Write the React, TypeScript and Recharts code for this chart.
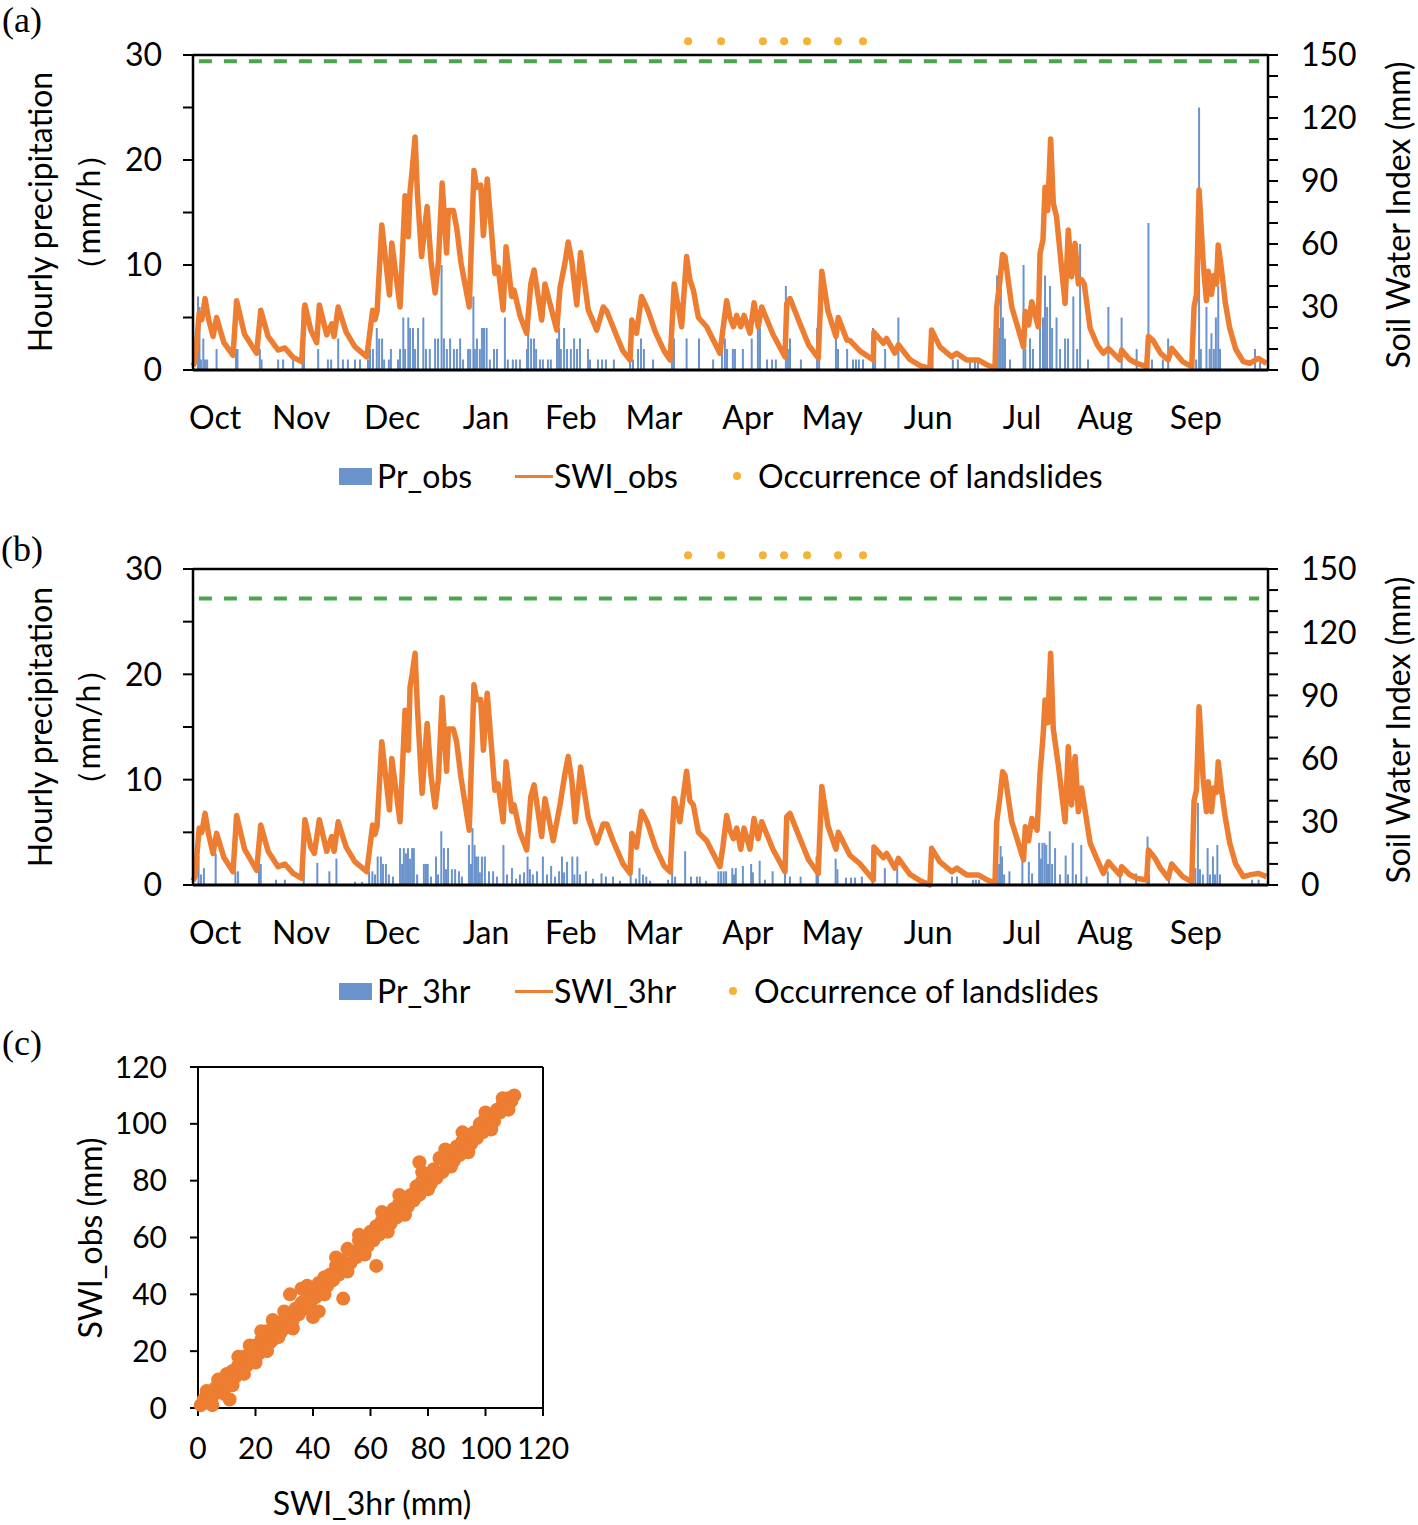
import React from 'react';
import {
  ComposedChart, ScatterChart, Scatter, Bar, Line, XAxis, YAxis,
  ReferenceLine, ReferenceDot,
} from 'recharts';

const BLUE = '#6b93cc';
const ORANGE = '#ed7d31';
const GOLD = '#f5b335';
const GREEN = '#4aa64c';
const FONT = 'Lato, "Open Sans", sans-serif';

// month labels on the time axis (day index from 1 Oct)
const monthNames = ['Oct', 'Nov', 'Dec', 'Jan', 'Feb', 'Mar', 'Apr', 'May', 'Jun', 'Jul', 'Aug', 'Sep'];
const monthDays = [7.5, 36.7, 67.6, 99.5, 128.3, 156.5, 188.4, 217, 249.6, 281.5, 309.7, 340.5];

const prTicks = [0, 5, 10, 15, 20, 25, 30];
const swiTicks = [0, 10, 20, 30, 40, 50, 60, 70, 80, 90, 100, 110, 120, 130, 140, 150];
const scatterTicks = [0, 20, 40, 60, 80, 100, 120];

// landslide dates (day index)
const landslideDays = [168.1, 179.3, 193.5, 200.7, 208.5, 219, 227.5];

// SWI threshold lines
const thresholdObs = 147;
const threshold3hr = 136;

// [day, SWI mm]
const swiObs: [number, number][] = [
  [0, 2], [0.7, 4], [2.1, 27], [3, 24], [4.1, 34], [5.3, 24], [6.8, 16], [8, 25], [10.5, 13], [13.6, 7],
  [14.8, 33], [17.5, 17], [21.6, 8], [23, 28.5], [25.5, 16], [28.9, 9.5], [31.2, 10.5], [34, 6], [36.9, 4], [38, 31],
  [40, 19], [42, 13], [42.9, 31], [45.4, 16.7], [47.1, 22], [47.9, 16], [49.3, 30], [52, 18], [55, 11], [59, 6.3],
  [61, 28.5], [61.8, 24], [62.5, 28], [64.1, 69], [66.7, 35.7], [67.5, 60.5], [70.3, 30], [72, 83], [73.1, 63.5], [73.7, 85],
  [74.4, 95], [75.4, 111], [76.2, 84], [77.6, 54], [79.5, 77.8], [80.8, 52], [82.2, 36.7], [83.3, 51], [84.6, 89], [86.1, 55.7],
  [86.7, 76], [88.4, 76], [89.5, 68], [91, 51], [93.8, 30], [95.4, 95], [96.3, 87], [97.7, 88], [98.6, 64], [99.9, 91],
  [102.5, 46], [103.6, 49], [105.3, 28.6], [106.3, 58.7], [108.2, 35], [109, 38], [111, 26], [113.3, 17.5], [114.7, 41], [115.8, 47.6],
  [118.4, 23.8], [119.5, 41], [123.5, 19], [124.6, 39], [126.3, 51], [127.4, 61], [128.6, 52], [130.3, 31], [131.6, 56], [134.2, 28.6],
  [137.1, 19], [139.3, 30], [140.5, 28], [143.9, 16], [146, 9], [148.4, 4.8], [149, 23.8], [150.6, 17.5], [152.3, 35], [154.3, 29],
  [157, 18], [160, 9], [162, 4.8], [163.4, 41], [165.9, 20.6], [167.6, 54], [168.7, 43], [169.9, 38], [171.6, 25], [174.4, 20.6],
  [178.9, 8], [179.9, 19], [181.2, 33], [182.3, 25], [183.5, 20.6], [184.6, 26], [186, 20.6], [187.1, 26], [189.1, 17.5], [190.5, 32],
  [191.9, 20.6], [193.1, 30], [196.9, 17], [201, 6.3], [201.6, 31.7], [202.7, 34], [206.1, 22], [209, 12], [212.3, 5.7], [213.5, 47],
  [215.6, 28], [218.3, 16], [219.1, 25], [222, 14.3], [223.1, 14], [226.5, 9], [231, 4.8], [231.2, 18], [234.4, 12.7], [235.5, 15],
  [238.3, 8], [239.5, 12], [243.4, 5], [247, 2], [250.2, 0.8], [250.8, 19], [253.6, 11], [257.6, 6.3], [259.3, 8], [262.7, 4.8],
  [266.6, 4.8], [269.5, 2.5], [272.3, 0.8], [272.9, 30], [274, 43], [274.9, 55], [275.7, 54], [278, 30], [282, 11], [282.6, 27.8],
  [283.7, 21.4], [284.8, 32.5], [287, 20.6], [287.6, 55.5], [288.6, 62], [289.3, 87], [290.2, 76], [291.2, 110], [292.1, 79.4], [293.2, 73],
  [296.1, 31.7], [297.2, 66.7], [298.3, 44.4], [299.5, 60.3], [300.6, 41], [301.7, 43], [302.6, 41], [304.6, 20], [307, 12], [309.1, 8],
  [310.8, 10.3], [314.7, 4.8], [315.3, 9.5], [318, 5], [320.4, 3.2], [323.8, 1.6], [324.4, 16], [326, 14], [328.5, 8], [331.1, 4.8],
  [332.3, 10.3], [336, 4], [339.1, 1.6], [339.9, 30], [340.7, 36], [341.6, 85.7], [343, 50.8], [344.1, 33], [344.7, 47], [345.8, 36],
  [346.6, 45], [347.5, 41], [348.1, 59.5], [349.2, 48], [350.5, 32], [352, 20], [354, 10], [356.6, 4], [358.8, 3.2], [361.7, 5.5], [364.5, 3.2],
];

const swi3hr: [number, number][] = [
  [0, 2], [0.7, 4], [2.1, 27], [3, 25], [4.1, 34], [5.3, 24], [6.8, 15], [8, 24.5], [10.5, 13], [13.6, 6.3],
  [14.8, 33], [17.5, 17], [21.6, 7], [23, 28.5], [25.5, 16], [28.9, 8.7], [31.2, 10], [34, 5.5], [36.9, 3.2], [38, 31],
  [40, 18], [41.2, 15], [42.9, 31], [45.4, 16], [47.1, 23], [47.9, 16], [49.3, 30], [52, 18], [55, 11], [59, 6.3],
  [61, 28.5], [61.8, 24], [62.5, 28], [64.1, 68], [66.7, 35.6], [67.5, 60], [70.3, 30], [72, 83], [73.1, 64], [73.7, 94],
  [74.4, 100], [75.4, 110], [76.2, 84], [77.8, 43.5], [79.5, 76.7], [80.8, 52], [82.2, 37], [83.3, 50], [84.6, 89], [86.1, 54],
  [86.7, 74], [88.4, 74], [89.5, 68], [91, 51], [93.8, 26], [95.4, 95], [96.3, 88], [97.7, 88], [98.6, 64], [99.9, 91],
  [102.5, 45], [103.6, 48], [105.3, 30], [106.3, 58.5], [108.2, 35], [109, 38], [111, 25], [113.3, 16.6], [114.7, 42], [115.8, 47.5],
  [118.4, 23], [119.5, 41], [122.3, 21], [124.6, 38], [126.3, 53], [127.4, 61], [128.6, 50], [129.8, 30], [131.6, 56], [134.2, 32],
  [137.1, 20], [139.3, 29], [140.5, 29], [142.6, 21], [146, 10], [148.4, 5.5], [149, 24.5], [150.6, 18], [152.3, 35], [154.3, 29.5],
  [157, 18], [160, 9], [162, 6.3], [163.4, 41], [165.3, 30], [167.6, 54], [168.7, 40], [169.9, 38], [171.6, 25], [174.4, 21],
  [178.9, 8.7], [179.9, 18], [181.2, 33], [182.3, 26], [183.5, 22], [184.6, 27], [186, 17], [187.1, 27], [189.1, 17], [190.5, 31.6],
  [191.9, 22], [193.1, 30], [196.9, 17], [201, 6.3], [201.6, 32.4], [202.7, 34], [206.1, 22], [209, 12], [212.3, 5.5], [213.5, 46.7],
  [215.6, 28], [218.3, 17], [219.1, 25], [222, 17], [223.1, 14], [226.5, 10], [231, 2.4], [231.2, 18], [234.4, 13], [235.5, 15],
  [238.3, 8], [239.5, 12.6], [243.4, 5], [247, 2], [250.2, 0], [250.8, 17.4], [253.6, 11], [257.6, 6.3], [259.3, 8], [262.7, 4.8],
  [266.6, 4.8], [269.5, 2.5], [272.3, 0.8], [272.9, 30], [274, 42], [274.9, 53.8], [275.7, 52], [278, 30], [282, 11.9], [282.6, 27.7],
  [283.7, 21], [284.8, 31.6], [286.6, 26], [287.6, 53], [288.6, 70], [289.3, 87.8], [290.2, 77], [291.2, 110], [292.1, 74], [293.9, 56],
  [296.1, 30], [297.2, 65.6], [298.3, 38], [299.5, 61], [300.6, 34.8], [301.7, 46], [302.6, 38], [304.6, 20], [307, 12], [309.1, 5.5],
  [310.8, 11], [314.7, 4.8], [315.3, 8.7], [318, 5], [320.4, 3.2], [323.8, 2.4], [324.4, 16.6], [326.5, 13], [328.5, 8], [331.1, 3.2],
  [332.3, 10], [336, 4], [339.1, 1.6], [339.9, 40], [340.7, 45], [341.6, 84.6], [343, 50], [344.1, 34.8], [344.7, 49], [345.8, 34.8],
  [346.6, 46], [347.5, 44], [348.1, 58.5], [349.2, 45], [350.5, 32], [352, 20], [354, 10], [356.6, 4], [358.8, 4.8], [361.7, 5.5], [364.5, 4],
];

// [day, mm/h]
const prObs: [number, number][] = [
  [1.7, 7], [2.2, 6], [2.7, 1], [3.5, 3], [4.1, 1], [4.8, 1], [8, 2], [14.6, 2], [15.1, 2], [22.7, 2],
  [23.3, 1], [28.9, 1], [30.6, 1], [34, 1], [37.2, 6], [37.7, 3], [42.5, 2], [45.8, 1], [46.9, 1], [49.3, 3],
  [50.9, 1], [52.6, 1], [55, 1], [56.7, 1], [59.4, 1], [60.1, 2], [61.1, 2], [62.4, 4], [63.2, 3], [64.2, 3],
  [64.9, 1], [66.5, 1], [67.2, 2], [69.6, 1], [70.3, 2], [71.4, 5], [72, 2], [73.1, 5], [73.7, 4], [74.7, 4],
  [75.4, 2], [76.4, 4], [78.2, 5], [79.1, 2], [80.4, 2], [82.2, 3], [83.2, 3], [84.4, 10], [85.2, 3], [86.2, 2],
  [87.3, 3], [88.6, 2], [89.6, 2], [90.7, 3], [91.7, 1], [93.4, 2], [94.1, 2], [95.2, 7], [95.7, 2], [96.4, 3],
  [97.4, 2], [98.1, 4], [98.8, 4], [99.7, 4], [100.8, 1], [102.2, 2], [103.2, 2], [105.9, 5], [106.9, 1], [108.6, 1],
  [109.7, 1], [111, 1], [113.4, 2], [113.8, 4], [114.8, 3], [115.8, 3], [116.5, 2], [117.8, 1], [118.8, 1], [120.5, 1],
  [121.5, 1], [123.6, 3], [124.3, 4], [124.9, 2], [126, 4], [127, 2], [128.3, 2], [129.4, 3], [130.4, 2], [131.4, 3],
  [134.1, 2], [134.8, 1], [137.5, 1], [138.9, 1], [140.2, 1], [142.9, 1], [148.4, 1], [149.4, 1], [151.1, 2], [152.1, 3],
  [153.1, 2], [156.2, 1], [162.6, 2], [163.3, 3], [167.6, 3], [171.8, 3], [176.6, 1], [179.6, 2], [180.6, 3], [181.3, 2],
  [183.3, 2], [184, 2], [186.7, 2], [189.7, 3], [191.8, 4], [192.5, 4], [194.9, 1], [196.6, 1], [197.9, 1], [201.3, 8],
  [202, 2], [202.7, 3], [206.4, 1], [211.9, 4], [212.6, 3], [218.3, 3], [219, 2], [222.1, 2], [224.1, 1], [225.1, 1],
  [226.1, 1], [227.5, 1], [230.9, 4], [231.6, 1], [235, 2], [239.5, 5], [251.1, 4], [258, 1], [259.7, 1], [263.8, 1],
  [265.5, 1], [266.5, 1], [273, 9], [273.7, 4], [274.3, 11], [275, 5], [275.7, 3], [277.4, 1], [282, 10], [282.6, 2],
  [284.2, 3], [285.2, 2], [287.6, 12], [288.6, 5], [289.3, 9], [290, 6], [291, 8], [291.7, 4], [293.2, 5], [294.4, 2],
  [296.1, 3], [297.1, 3], [298.9, 7], [300.2, 2], [301.2, 12], [303.9, 1], [310.8, 6], [315.3, 5], [320.4, 2], [324.4, 14],
  [325.6, 1], [329.3, 1], [331.1, 3], [339.6, 2], [340.6, 1], [341.6, 25], [342.2, 2], [344.1, 6], [345.2, 2], [345.8, 3.5],
  [346.6, 2], [347.3, 5], [348.1, 8], [348.7, 2], [360.6, 2], [362.3, 1],
];

const pr3hr: [number, number][] = [
  [1.9, 2.7], [2.7, 1], [3.7, 1.6], [7.7, 3], [14.4, 1.3], [15.3, 1.3], [22.4, 2], [23, 2], [28.2, 0.5], [31.2, 0.5],
  [37.6, 1.8], [42.2, 2.1], [46.3, 1.3], [48.7, 2.5], [55, 0.3], [57.4, 0.3], [59.8, 1.3], [60.9, 1.3], [61.8, 1], [62.7, 2.7],
  [63.8, 2.7], [64.5, 2], [65.5, 2], [66.5, 1], [67.9, 0.8], [70.3, 3.5], [71, 2], [71.6, 3.5], [72.3, 3], [73, 3.5],
  [73.7, 2.5], [74.4, 3.5], [75, 3.5], [76.1, 1], [78.4, 2], [79.1, 2], [79.7, 2], [80.8, 0.8], [82.5, 2.7], [83.2, 1],
  [84.3, 5.1], [85.2, 3.5], [85.9, 1.5], [86.6, 3.5], [87.9, 1.5], [89, 1.5], [90.3, 1.3], [91.3, 0.8], [93.7, 3.8], [94.4, 2],
  [94.9, 5.4], [95.6, 3.8], [96.1, 2.7], [96.8, 2.7], [97.4, 1.2], [98.1, 2.7], [99.1, 2.7], [100.5, 1.3], [101.9, 1.3], [103.2, 0.8],
  [105.4, 3.8], [106.6, 1], [108.3, 1.6], [109.7, 0.6], [111, 1], [112.4, 1.2], [113.6, 2.7], [114.4, 1.5], [115.4, 1], [116.8, 1.3],
  [118.8, 2.7], [120.2, 1], [121.6, 1.8], [122.9, 0.8], [124.3, 1.3], [125.3, 2.7], [126, 1.2], [127, 2.2], [128.8, 2.7], [129.5, 1],
  [130.5, 2.7], [131.4, 1], [133.4, 1.3], [135.8, 0.6], [138.7, 1.1], [140.2, 0.8], [142.6, 0.8], [145, 0.4], [148.6, 1.3], [150.4, 0.6],
  [151.6, 1.6], [152.8, 1], [153.9, 0.8], [155.2, 0.4], [161.3, 0.5], [162.7, 1.6], [163.7, 0.8], [167.1, 3.2], [169.1, 0.8], [171.1, 0.8],
  [172.1, 0.8], [174.2, 0.4], [178.4, 1.3], [179.3, 1.3], [180.2, 1.3], [181, 1.3], [183.1, 1.6], [183.7, 1], [184.3, 1.6], [186.7, 1.8],
  [189.5, 2], [190.1, 1.2], [192.4, 2.3], [194.2, 0.5], [196.8, 1.3], [201, 1.4], [202.7, 0.8], [206.3, 0.8], [211.7, 2.7], [212.2, 1.5],
  [218.2, 2.5], [218.8, 1.5], [221.7, 0.7], [223.4, 0.7], [224.8, 0.7], [227.1, 0.8], [230.7, 1.3], [234.9, 1.6], [239.1, 1.6], [250.9, 1.1],
  [257.7, 0.8], [259.4, 0.8], [264.8, 0.5], [265.8, 0.5], [266.9, 0.5], [273, 3.7], [273.7, 2], [274.2, 3.7], [274.7, 2.7], [275.4, 1],
  [277.2, 1.3], [281.6, 2.2], [283.8, 2.2], [284.9, 1.1], [287.3, 4], [287.9, 2.5], [288.4, 4], [289.1, 4], [289.7, 3.8], [290.3, 2],
  [290.9, 5.1], [291.7, 2], [292.7, 3.5], [294.4, 1], [296.3, 2.8], [297.1, 1], [298.7, 4], [299.8, 1], [301.6, 3.8], [303.4, 0.8],
  [310.6, 1.3], [314.8, 1.1], [320.2, 1.1], [324.1, 4.6], [324.6, 1], [331.4, 1.3], [340.3, 1.6], [341.2, 7.8], [341.9, 1.5], [342.9, 1],
  [344.5, 3.5], [345.3, 1], [346.3, 2.7], [347, 1], [347.8, 3.8], [348.7, 1], [359.6, 0.5], [361.8, 0.5],
];

// panel (c): [SWI_3hr, SWI_obs]
const swiPairs: [number, number][] = [
  [1, 1], [2, 3], [3, 2], [4, 5], [5, 4], [6, 7], [7, 6], [8, 10], [8, 7], [9, 9],
  [10, 12], [11, 9], [11, 3], [12, 13], [13, 11], [14, 15], [15, 14], [16, 18], [17, 15], [18, 19],
  [19, 17], [20, 22], [21, 19], [22, 24], [23, 21], [24, 27], [25, 23], [26, 28], [26, 24], [27, 26],
  [28, 30], [29, 27], [30, 31], [31, 29], [32, 40], [32, 33], [33, 31], [34, 35], [35, 33], [36, 42],
  [36, 37], [37, 35], [38, 39], [39, 36], [40, 32], [40, 41], [41, 39], [42, 34], [42, 44], [43, 41],
  [44, 46], [45, 43], [46, 47], [47, 45], [48, 50], [49, 47], [50, 52], [50.5, 38.5], [51, 49], [52, 56],
  [53, 51], [54, 55], [55, 53], [56, 59], [57, 55], [58, 60], [59, 57], [60, 62], [61, 59], [62, 50],
  [62, 64], [63, 61], [64, 66], [65, 63], [66, 67], [67, 65], [68, 70], [69, 67], [70, 72], [71, 69],
  [72, 74], [73, 71], [74, 75], [75, 73], [76, 78], [77, 86.5], [77, 75], [78, 80], [79, 77], [80, 82],
  [81, 79], [82, 84], [83, 81], [84, 88], [85, 83], [86, 87], [87, 85], [88, 90], [89, 87], [90, 92],
  [91, 89], [92, 94], [93, 91], [94, 96], [95, 93], [96, 97], [97, 95], [98, 100], [99, 97], [100, 102],
  [101, 99], [102, 103], [103, 101], [104, 105], [105, 104], [106, 107], [107, 106], [108, 109], [109, 108], [110, 110],
  [3, 6], [5, 1], [7, 10], [9, 5], [12, 8], [14, 18], [16, 12], [18, 22], [20, 16], [22, 27],
  [24, 20], [26, 31], [28, 25], [30, 34], [33, 28], [38, 43], [44, 40], [48, 53], [52, 48], [56, 61],
  [58, 54], [64, 69], [66, 62], [70, 75], [72, 68], [78, 83], [80, 77], [86, 91], [88, 85], [92, 97],
  [94, 90], [100, 104], [102, 98], [106, 109], [108, 105],
];

type Row = { day: number; swi?: number; pr?: number };

function buildRows(swi: [number, number][], pr: [number, number][]): Row[] {
  const m = new Map<number, Row>();
  swi.forEach(([d, v]) => m.set(d, { ...(m.get(d) || { day: d }), swi: v }));
  pr.forEach(([d, v]) => m.set(d, { ...(m.get(d) || { day: d }), pr: v }));
  return Array.from(m.values()).sort((a, b) => a.day - b.day);
}

const rowsObs = buildRows(swiObs, prObs);
const rows3hr = buildRows(swi3hr, pr3hr);
const scatterRows = swiPairs.map(([x, y]) => ({ x, y }));

const tickStyle = { fill: '#000', fontSize: 32, fontFamily: FONT };
const tickStyleC = { fill: '#000', fontSize: 30, fontFamily: FONT };

const PrBar = (props: any) => {
  const { x, y, width, height } = props;
  if (!(height > 0)) return <g />;
  return <rect x={x + width / 2 - 1} y={y} width={2} height={height} fill={BLUE} />;
};

const Dot = (props: any) => <circle cx={props.cx} cy={props.cy} r={7} fill={ORANGE} />;

const Txt = ({ x, y, children, size = 32, rotate = false, family = FONT }: any) => (
  <div
    style={{
      position: 'absolute', left: x, top: y, whiteSpace: 'nowrap', fontSize: size, fontFamily: family,
      lineHeight: 1, color: '#000',
      transform: rotate ? 'translate(-50%, -50%) rotate(-90deg)' : 'translate(-50%, -50%)',
    }}
  >
    {children}
  </div>
);

const LegendRow = ({ cy, prLabel, swiLabel, dotX }: any) => (
  <>
    <div style={{ position: 'absolute', left: 339, top: cy - 8, width: 33, height: 17, background: BLUE }} />
    <div style={{ position: 'absolute', left: 377, top: cy - 18, fontSize: 32, fontFamily: FONT, lineHeight: '36px' }}>{prLabel}</div>
    <div style={{ position: 'absolute', left: 515, top: cy - 1, width: 38, height: 3, background: ORANGE }} />
    <div style={{ position: 'absolute', left: 554, top: cy - 18, fontSize: 32, fontFamily: FONT, lineHeight: '36px' }}>{swiLabel}</div>
    <div style={{ position: 'absolute', left: dotX - 4, top: cy - 4, width: 8, height: 8, borderRadius: 4, background: GOLD }} />
    <div style={{ position: 'absolute', left: dotX + 21, top: cy - 18, fontSize: 32, fontFamily: FONT, lineHeight: '36px' }}>
      Occurrence of landslides
    </div>
  </>
);

const SeriesPanel = ({ rows, threshold, bottom }: { rows: Row[]; threshold: number; bottom: number }) => (
  <ComposedChart width={1418} height={450} data={rows} margin={{ top: 55, right: 70, bottom, left: 113 }}>
    <XAxis
      dataKey="day" type="number" domain={[0, 365]} ticks={monthDays} interval={0}
      tickFormatter={(_v: number, i: number) => monthNames[i]}
      axisLine={{ stroke: '#000', strokeWidth: 3 }} tickLine={false} tickSize={0} tickMargin={36}
      height={60} tick={tickStyle}
    />
    <YAxis
      yAxisId="pr" domain={[0, 30]} ticks={prTicks} interval={0} width={80}
      tickFormatter={(v: number) => (v % 10 === 0 ? String(v) : '')}
      axisLine={{ stroke: '#000', strokeWidth: 2.5 }} tickLine={{ stroke: '#000', strokeWidth: 2 }}
      tickSize={10} tickMargin={21} tick={tickStyle}
    />
    <YAxis
      yAxisId="swi" orientation="right" domain={[0, 150]} ticks={swiTicks} interval={0} width={80}
      tickFormatter={(v: number) => (v % 30 === 0 ? String(v) : '')}
      axisLine={{ stroke: '#000', strokeWidth: 2.5 }} tickLine={{ stroke: '#000', strokeWidth: 2 }}
      tickSize={10} tickMargin={23} tick={tickStyle}
    />
    <ReferenceLine yAxisId="pr" y={30} stroke="#000" strokeWidth={2.5} />
    <ReferenceLine
      yAxisId="swi"
      segment={[{ x: 2, y: threshold }, { x: 362, y: threshold }]}
      stroke={GREEN} strokeWidth={4} strokeDasharray="13 12"
    />
    <Bar yAxisId="pr" dataKey="pr" shape={PrBar} isAnimationActive={false} />
    <Line
      yAxisId="swi" dataKey="swi" type="linear" stroke={ORANGE} strokeWidth={5.5} dot={false}
      strokeLinejoin="round" connectNulls isAnimationActive={false}
    />
    {landslideDays.map((d) => (
      <ReferenceDot key={d} yAxisId="swi" x={d} y={156.5} r={4} fill={GOLD} stroke="none" ifOverflow="visible" />
    ))}
  </ComposedChart>
);

export default function App() {
  return (
    <div style={{ position: 'absolute', left: 0, top: 0, width: 1418, height: 1525, background: '#fff', fontFamily: FONT }}>
      <Txt x={22} y={20} size={36} family='"Liberation Serif", serif'>(a)</Txt>
      <Txt x={22} y={549} size={36} family='"Liberation Serif", serif'>(b)</Txt>
      <Txt x={22} y={1043} size={36} family='"Liberation Serif", serif'>(c)</Txt>

      <div style={{ position: 'absolute', left: 0, top: 0 }}>
        <SeriesPanel rows={rowsObs} threshold={thresholdObs} bottom={20} />
      </div>
      <Txt x={40} y={212} rotate>Hourly precipitation</Txt>
      <Txt x={88} y={212} rotate>（mm/h）</Txt>
      <Txt x={1398} y={215} rotate>Soil Water Index (mm)</Txt>
      <LegendRow cy={476} prLabel="Pr_obs" swiLabel="SWI_obs" dotX={737} />

      <div style={{ position: 'absolute', left: 0, top: 514 }}>
        <SeriesPanel rows={rows3hr} threshold={threshold3hr} bottom={19} />
      </div>
      <Txt x={40} y={727} rotate>Hourly precipitation</Txt>
      <Txt x={88} y={727} rotate>（mm/h）</Txt>
      <Txt x={1398} y={730} rotate>Soil Water Index (mm)</Txt>
      <LegendRow cy={991} prLabel="Pr_3hr" swiLabel="SWI_3hr" dotX={733} />

      <div style={{ position: 'absolute', left: 0, top: 1040 }}>
        <ScatterChart width={600} height={485} margin={{ top: 27, right: 57, bottom: 57, left: 128 }}>
          <XAxis
            type="number" dataKey="x" domain={[0, 120]} ticks={scatterTicks} interval={0} height={60}
            axisLine={{ stroke: '#000', strokeWidth: 2 }} tickLine={{ stroke: '#000', strokeWidth: 2 }}
            tickSize={8} tickMargin={22} tick={tickStyleC}
          />
          <YAxis
            type="number" dataKey="y" domain={[0, 120]} ticks={scatterTicks} interval={0} width={70}
            axisLine={{ stroke: '#000', strokeWidth: 2 }} tickLine={{ stroke: '#000', strokeWidth: 2 }}
            tickSize={8} tickMargin={23} tick={tickStyleC}
          />
          <ReferenceLine y={120} stroke="#000" strokeWidth={2} />
          <ReferenceLine x={120} stroke="#000" strokeWidth={2} />
          <Scatter data={scatterRows} fill={ORANGE} shape={Dot} isAnimationActive={false} />
        </ScatterChart>
      </div>
      <Txt x={90} y={1238} rotate>SWI_obs (mm)</Txt>
      <Txt x={372} y={1503}>SWI_3hr (mm)</Txt>
    </div>
  );
}
